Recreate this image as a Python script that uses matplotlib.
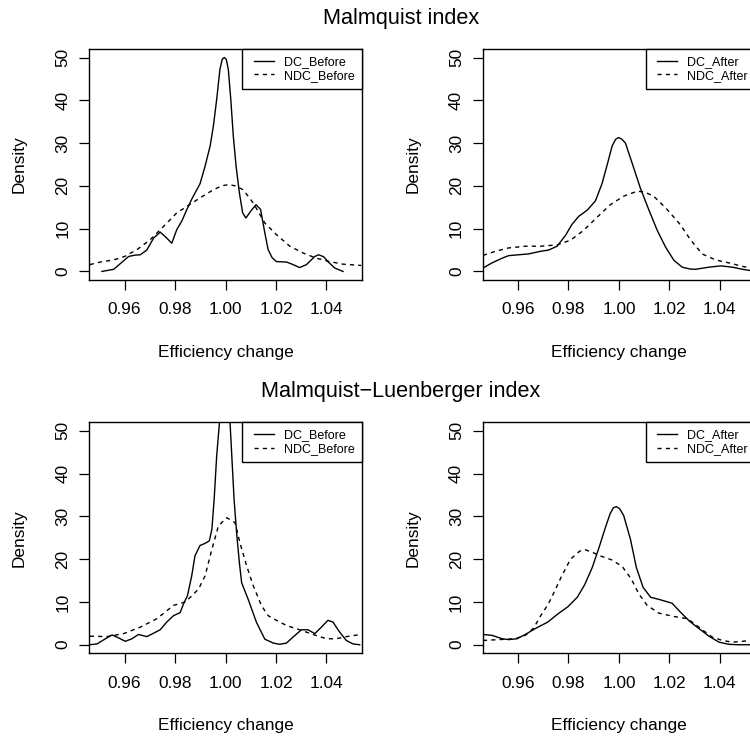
import matplotlib
matplotlib.use("Agg")
import matplotlib.pyplot as plt
from matplotlib.lines import Line2D
from matplotlib.legend_handler import HandlerLine2D

plt.rcParams['font.family'] = ['Liberation Sans', 'DejaVu Sans']

# ---------------- data ----------------
# Malmquist index, before
mq_dc_before_x = [0.9510, 0.9557, 0.9600, 0.9616, 0.9640, 0.9662, 0.9688, 0.9715, 0.9741, 0.9767,
                  0.9787, 0.9807, 0.9827, 0.9847, 0.9867, 0.9899, 0.9919, 0.9939, 0.9952, 0.9965,
                  0.9978, 0.9987, 0.9995, 1.0003, 1.0011, 1.0021, 1.0031, 1.0042, 1.0055, 1.0068,
                  1.0081, 1.0100, 1.0121, 1.0139, 1.0156, 1.0169, 1.0185, 1.0202, 1.0242, 1.0268,
                  1.0294, 1.0321, 1.0354, 1.0370, 1.0390, 1.0406, 1.0433, 1.0466]
mq_dc_before_y = [0.0, 0.5, 2.7, 3.5, 3.8, 3.9, 5.0, 7.8, 9.2, 7.8,
                  6.6, 9.8, 11.8, 14.5, 17.0, 20.5, 24.6, 29.3, 34.0, 40.2,
                  47.3, 49.6, 50.0, 49.6, 47.3, 40.2, 31.6, 24.6, 18.4, 13.7,
                  12.5, 14.1, 15.6, 14.5, 9.0, 5.1, 3.2, 2.3, 2.2, 1.6,
                  0.9, 1.6, 3.5, 3.9, 3.4, 2.3, 0.8, 0.0]
mq_ndc_before_x = [0.9462, 0.9504, 0.9557, 0.9600, 0.9649, 0.9701, 0.9754, 0.9807, 0.9847, 0.9899,
                   0.9952, 0.9985, 1.0011, 1.0040, 1.0070, 1.0110, 1.0156, 1.0202, 1.0255, 1.0308,
                   1.0360, 1.0413, 1.0466, 1.0538]
mq_ndc_before_y = [1.6, 2.2, 2.7, 3.5, 5.1, 7.4, 10.5, 13.7, 15.2, 17.2,
                   19.1, 20.0, 20.3, 20.0, 19.1, 16.0, 11.3, 8.6, 5.9, 4.3,
                   3.1, 2.3, 1.7, 1.4]
# Malmquist index, after
mq_dc_after_x = [0.9461, 0.9497, 0.9537, 0.9563, 0.9603, 0.9642, 0.9689, 0.9721, 0.9755, 0.9788,
                 0.9814, 0.9841, 0.9874, 0.9907, 0.9933, 0.9953, 0.9973, 0.9987, 0.9999, 1.0012,
                 1.0026, 1.0052, 1.0085, 1.0118, 1.0152, 1.0185, 1.0218, 1.0251, 1.0284, 1.0304,
                 1.0357, 1.0404, 1.0450, 1.0490, 1.0522, 1.0560]
mq_dc_after_y = [0.8, 2.0, 3.1, 3.7, 3.9, 4.1, 4.7, 5.0, 5.9, 8.4,
                 11.0, 12.9, 14.3, 16.5, 20.5, 24.8, 29.3, 30.9, 31.3, 30.9,
                 30.0, 25.4, 19.5, 14.5, 9.6, 5.7, 2.6, 1.0, 0.55, 0.5,
                 1.0, 1.3, 1.0, 0.5, 0.2, 0.0]
mq_ndc_after_x = [0.9461, 0.9510, 0.9563, 0.9629, 0.9689, 0.9755, 0.9808, 0.9860, 0.9914, 0.9966,
                  1.0019, 1.0072, 1.0100, 1.0138, 1.0191, 1.0244, 1.0284, 1.0330, 1.0383, 1.0436,
                  1.0489, 1.0522, 1.0560]
mq_ndc_after_y = [3.75, 4.7, 5.5, 5.9, 5.9, 6.2, 7.3, 9.6, 12.7, 15.6,
                  17.6, 18.75, 18.6, 17.6, 14.5, 10.9, 7.4, 4.1, 2.7, 2.0,
                  1.2, 0.8, 0.5]
# Malmquist-Luenberger index, before
ml_dc_before_x = [0.9462, 0.9491, 0.9524, 0.9550, 0.9576, 0.9603, 0.9629, 0.9655, 0.9688, 0.9715,
                  0.9741, 0.9767, 0.9794, 0.9820, 0.9836, 0.9849, 0.9866, 0.9879, 0.9899, 0.9919,
                  0.9936, 0.9946, 0.9955, 0.9965, 0.9976, 0.9987, 0.9997, 1.0008, 1.0018, 1.0025,
                  1.0034, 1.0044, 1.0055, 1.0064, 1.0090, 1.0123, 1.0156, 1.0189, 1.0215, 1.0242,
                  1.0268, 1.0301, 1.0327, 1.0354, 1.0380, 1.0406, 1.0426, 1.0452, 1.0479, 1.0505,
                  1.0532]
ml_dc_before_y = [0.0, 0.2, 1.4, 2.3, 1.6, 0.8, 1.4, 2.4, 1.9, 2.7,
                  3.5, 5.3, 6.8, 7.5, 9.9, 11.4, 16.1, 20.8, 23.2, 23.7,
                  24.3, 27.0, 34.0, 44.1, 51.9, 58.0, 62.0, 58.0, 51.9, 44.1,
                  34.0, 26.2, 19.2, 14.5, 10.6, 5.2, 1.3, 0.4, 0.1, 0.4,
                  1.8, 3.5, 3.5, 2.6, 4.1, 5.7, 5.3, 3.0, 1.0, 0.2,
                  0.0]
ml_ndc_before_x = [0.9462, 0.9530, 0.9596, 0.9662, 0.9728, 0.9794, 0.9840, 0.9866, 0.9893, 0.9919,
                   0.9946, 0.9972, 1.0005, 1.0038, 1.0057, 1.0084, 1.0110, 1.0143, 1.0169, 1.0189,
                   1.0242, 1.0294, 1.0347, 1.0400, 1.0439, 1.0479, 1.0538]
ml_ndc_before_y = [2.0, 1.9, 2.6, 4.1, 6.1, 9.2, 10.0, 11.4, 13.0, 16.1,
                   22.3, 27.8, 29.7, 28.5, 23.9, 18.4, 13.8, 9.1, 6.8, 6.1,
                   4.5, 3.5, 2.4, 1.4, 1.4, 1.9, 2.4]
# Malmquist-Luenberger index, after
ml_dc_after_x = [0.9461, 0.9497, 0.9537, 0.9563, 0.9596, 0.9629, 0.9669, 0.9718, 0.9758, 0.9798,
                 0.9835, 0.9864, 0.9894, 0.9920, 0.9947, 0.9965, 0.9978, 0.9990, 1.0003, 1.0019,
                 1.0046, 1.0069, 1.0096, 1.0126, 1.0165, 1.0211, 1.0241, 1.0280, 1.0317, 1.0357,
                 1.0397, 1.0436, 1.0475, 1.0560]
ml_dc_after_y = [2.4, 2.2, 1.4, 1.2, 1.4, 2.4, 3.8, 5.3, 7.2, 8.9,
                 11.1, 14.0, 18.0, 22.5, 27.5, 30.6, 32.0, 32.3, 31.8, 30.2,
                 24.6, 18.1, 13.4, 11.1, 10.5, 9.7, 7.8, 5.5, 3.8, 2.0,
                 0.6, 0.1, 0.0, 0.0]
ml_ndc_after_x = [0.9461, 0.9523, 0.9589, 0.9629, 0.9662, 0.9690, 0.9720, 0.9740, 0.9771, 0.9808,
                  0.9845, 0.9867, 0.9895, 0.9925, 0.9973, 1.0013, 1.0049, 1.0079, 1.0112, 1.0158,
                  1.0218, 1.0271, 1.0300, 1.0335, 1.0370, 1.0410, 1.0450, 1.0489, 1.0522, 1.0560]
ml_ndc_after_y = [1.0, 1.2, 1.4, 2.2, 3.9, 6.8, 9.5, 11.9, 15.8, 20.0,
                  21.9, 22.2, 21.6, 20.8, 19.8, 18.3, 15.4, 11.9, 9.2, 7.4,
                  6.6, 6.1, 4.9, 3.3, 1.8, 1.0, 0.6, 0.8, 1.0, 1.2]

x_ticks = [0.96, 0.98, 1.00, 1.02, 1.04]
x_tick_labels = ["0.96", "0.98", "1.00", "1.02", "1.04"]
y_ticks = [0, 10, 20, 30, 40, 50]
titles = ["Malmquist index", "Malmquist\u2212Luenberger index"]
legend_before = ["DC_Before", "NDC_Before"]
legend_after = ["DC_After", "NDC_After"]
x_label = "Efficiency change"
y_label = "Density"

# ---------------- layout ----------------
W, H = 750, 738
fig = plt.figure(figsize=(W / 100, H / 100), dpi=100)

AX_W, AX_H = 272.4, 231.0
panels = [
    (89.3, 49.0, mq_dc_before_x, mq_dc_before_y, mq_ndc_before_x, mq_ndc_before_y, legend_before),
    (482.7, 49.0, mq_dc_after_x, mq_dc_after_y, mq_ndc_after_x, mq_ndc_after_y, legend_after),
    (89.3, 422.3, ml_dc_before_x, ml_dc_before_y, ml_ndc_before_x, ml_ndc_before_y, legend_before),
    (482.7, 422.3, ml_dc_after_x, ml_dc_after_y, ml_ndc_after_x, ml_ndc_after_y, legend_after),
]

FS = 12.45
LEG_FS = 9.0
for left, top, dx, dy, nx, ny, labels in panels:
    ax = fig.add_axes([left / W, 1 - (top + AX_H) / H, AX_W / W, AX_H / H])
    ax.plot(dx, dy, color="black", lw=1.0, label=labels[0])
    ax.plot(nx, ny, color="black", lw=1.0, linestyle=(0, (3, 3)), label=labels[1])
    ax.set_xlim(0.946, 1.054)
    ax.set_ylim(-2, 52)
    ax.set_xticks(x_ticks)
    ax.set_xticklabels(x_tick_labels)
    ax.set_yticks(y_ticks)
    for s in ax.spines.values():
        s.set_linewidth(1.0)
        s.set_color("black")
    ax.tick_params(axis="both", direction="out", length=7, width=0.9, labelsize=FS, colors="black")
    ax.tick_params(axis="x", pad=9)
    ax.tick_params(axis="y", pad=6.5, labelrotation=90)
    for t in ax.get_yticklabels():
        t.set_va("center")
    ax.set_xlabel(x_label, fontsize=FS, va="center")
    ax.xaxis.set_label_coords(0.5, -72.0 / AX_H)
    ax.set_ylabel(y_label, fontsize=FS, va="center")
    ax.yaxis.set_label_coords(-70.0 / AX_W, 0.5)
    leg = ax.legend(loc="upper right", bbox_to_anchor=(1, 1), fontsize=LEG_FS, frameon=True,
                    fancybox=False, edgecolor="black", framealpha=1, borderaxespad=0,
                    handlelength=1.95, handletextpad=0.8, labelspacing=0.11, borderpad=0.58,
                    handler_map={Line2D: HandlerLine2D(xpad=0.35)})
    leg.get_frame().set_linewidth(1.0)

fig.text(401 / W, 1 - 18.3 / H, titles[0], ha="center", va="center", fontsize=15.55)
fig.text(401 / W, 1 - 391.7 / H, titles[1], ha="center", va="center", fontsize=15.55)

fig.savefig("out.png", dpi=100)
